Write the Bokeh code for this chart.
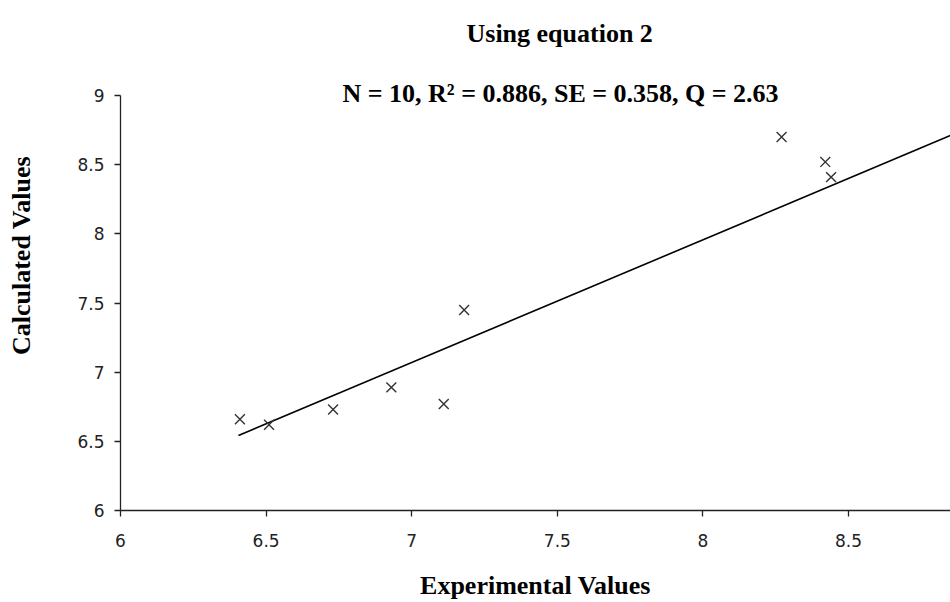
import math
from bokeh.plotting import figure
from bokeh.models import Range1d, FixedTicker, Label
from bokeh.embed import file_html
from bokeh.resources import INLINE

# ---- data ----
exp_values = [6.41, 6.51, 6.73, 6.93, 7.11, 7.18, 8.27, 8.42, 8.44]
calc_values = [6.66, 6.62, 6.73, 6.89, 6.77, 7.45, 8.70, 8.52, 8.41]
fit_x = [6.405, 8.85]
fit_y = [6.542, 8.711]

x_ticks = [6, 6.5, 7, 7.5, 8, 8.5]
x_tick_labels = ["6", "6.5", "7", "7.5", "8", "8.5"]
y_ticks = [6, 6.5, 7, 7.5, 8, 8.5, 9]
y_tick_labels = ["6", "6.5", "7", "7.5", "8", "8.5", "9"]

title_1 = "Using equation 2"
title_2 = "N = 10, R\u00b2 = 0.886, SE = 0.358, Q = 2.63"
x_title = "Experimental Values"
y_title = "Calculated Values"

SERIF = "Liberation Serif"
SANS = "DejaVu Sans"

p = figure(width=950, height=602, output_backend="svg", toolbar_location=None,
           x_range=Range1d(6, 8.85), y_range=Range1d(6, 9.687),
           min_border_left=120, min_border_right=0,
           min_border_top=0, min_border_bottom=92)
p.outline_line_color = None
p.grid.visible = False
p.background_fill_color = "white"
p.border_fill_color = "white"

for ax, ticks, labels in ((p.xaxis[0], x_ticks, x_tick_labels),
                          (p.yaxis[0], y_ticks, y_tick_labels)):
    ax.ticker = FixedTicker(ticks=ticks)
    ax.major_label_overrides = {t: l for t, l in zip(ticks, labels)}
    ax.axis_line_color = "#222222"
    ax.axis_line_width = 1.3
    ax.major_tick_line_color = "#222222"
    ax.major_tick_line_width = 1.3
    ax.major_tick_in = 0
    ax.major_tick_out = 6
    ax.minor_tick_line_color = None
    ax.major_label_text_font = SANS
    ax.major_label_text_font_size = "17px"
    ax.major_label_text_color = "#222222"

p.yaxis.bounds = (6, 9)
p.xaxis.major_label_standoff = 17
p.yaxis.major_label_standoff = 10

for ax, t, sd in ((p.xaxis[0], x_title, 21), (p.yaxis[0], y_title, 38)):
    ax.axis_label = t
    ax.axis_label_text_font = SERIF
    ax.axis_label_text_font_style = "bold"
    ax.axis_label_text_font_size = "26px"
    ax.axis_label_text_color = "black"
    ax.axis_label_standoff = sd

p.line(fit_x, fit_y, line_color="black", line_width=1.6)
p.scatter(exp_values, calc_values, marker="x", size=14,
          line_color="#333333", line_width=1.4)

p.add_layout(Label(x=7.508, y=9.448, text=title_1,
                   text_align="center", text_baseline="alphabetic",
                   text_font=SERIF, text_font_style="bold",
                   text_font_size="26px", text_color="black"))
p.add_layout(Label(x=7.511, y=9.015, text=title_2,
                   text_align="center", text_baseline="alphabetic",
                   text_font=SERIF, text_font_style="bold",
                   text_font_size="26px", text_color="black"))

open("out.html", "w").write(file_html(p, INLINE))
